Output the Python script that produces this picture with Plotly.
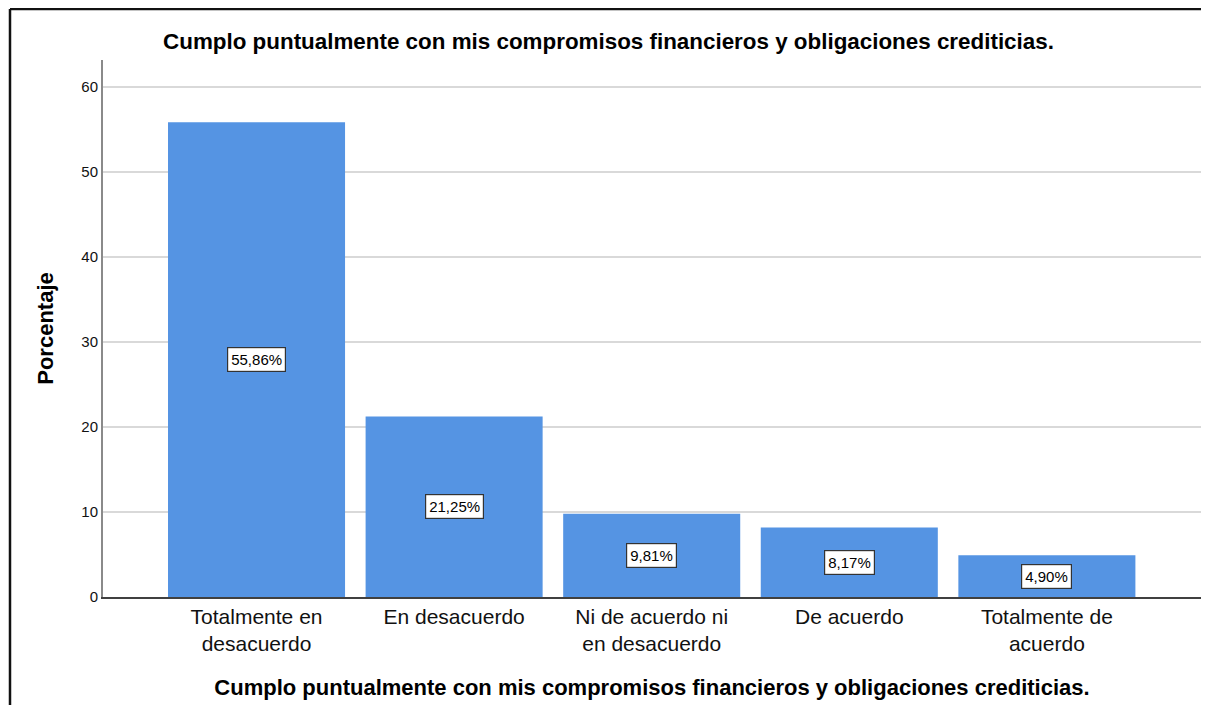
import plotly.graph_objects as go

categories = [
    "Totalmente en<br>desacuerdo",
    "En desacuerdo",
    "Ni de acuerdo ni<br>en desacuerdo",
    "De acuerdo",
    "Totalmente de<br>acuerdo",
]
percentages = [55.86, 21.25, 9.81, 8.17, 4.90]
labels = ["55,86%", "21,25%", "9,81%", "8,17%", "4,90%"]
y_ticks = [0, 10, 20, 30, 40, 50, 60]

title = "Cumplo puntualmente con mis compromisos financieros y obligaciones crediticias."
font = "Arial, Liberation Sans, sans-serif"
positions = list(range(len(categories)))

fig = go.Figure(go.Bar(
    x=positions, y=percentages, width=0.896,
    marker=dict(color="#5594E3", line=dict(width=0)),
    hoverinfo="skip",
))

# value labels sit in white boxes at half bar height
for pos, val, lab in zip(positions, percentages, labels):
    fig.add_annotation(x=pos, y=val / 2, text=lab, showarrow=False,
                       font=dict(family=font, size=15, color="#000000"),
                       bgcolor="#ffffff", bordercolor="#333333", borderwidth=1.2, borderpad=3)

# frame around the chart: only left and top edges are visible in the crop
frame = dict(color="#111111", width=2.5)
fig.add_shape(type="line", xref="paper", yref="paper", x0=-0.0847, x1=1.0073, y0=1.095, y1=1.095,
              line=frame, layer="above")
fig.add_shape(type="line", xref="paper", yref="paper", x0=-0.0847, x1=-0.0847, y0=-0.5, y1=1.095,
              line=frame, layer="above")

# page body adds an 8px margin on every side; keep the figure inside the window
fig.update_layout(
    width=1201, height=697,
    margin=dict(l=95, r=8, t=52, b=108),
    paper_bgcolor="#ffffff", plot_bgcolor="#ffffff",
    showlegend=False,
    font=dict(family=font, color="#000000"),
    title=dict(text=f"<b>{title}</b>", x=0.5, xanchor="center", y=0.952, yanchor="middle",
               font=dict(size=22.4, family=font, color="#000000")),
)
fig.update_xaxes(
    range=[-0.777, 4.78], tickmode="array", tickvals=positions, ticktext=categories,
    tickfont=dict(size=21, color="#111111"), showgrid=False, ticks="", zeroline=False,
    showline=True, linecolor="#404040", linewidth=1.5,
    title=dict(text=f"<b>{title}</b>", font=dict(size=22), standoff=25),
)
fig.update_yaxes(
    range=[0, 63.2], tickmode="array", tickvals=y_ticks,
    tickfont=dict(size=15, color="#111111"), showgrid=True, gridcolor="#d9d9d9", gridwidth=1.5,
    zeroline=False, showline=True, linecolor="#8a8a8a", linewidth=2, ticks="", ticklen=0,
    title=dict(text="<b>Porcentaje</b>", font=dict(size=22), standoff=22),
)

fig.write_html("out.html")
